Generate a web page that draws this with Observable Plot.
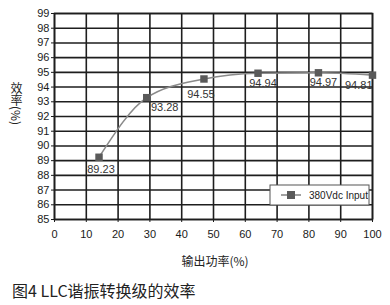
<!DOCTYPE html>
<html><head><meta charset="utf-8">
<script src="https://cdn.jsdelivr.net/npm/d3@7"></script>
<script src="https://cdn.jsdelivr.net/npm/@observablehq/plot@0.6"></script>
<style>
body{margin:0;background:#fff;}
#c{position:relative;width:390px;height:305px;}
#ylab{position:absolute;left:9px;top:82px;writing-mode:vertical-rl;text-orientation:mixed;
  font-family:'Noto Sans CJK SC',sans-serif;font-size:12px;line-height:14px;color:#222;white-space:nowrap;}
</style>
</head><body><div id="c"><div id="ylab"></div></div>
<script>
const power = [14, 29, 47, 64, 83, 100];
const efficiency = [89.23, 93.28, 94.55, 94.94, 94.97, 94.81];
const xTicks = [0, 10, 20, 30, 40, 50, 60, 70, 80, 90, 100];
const yTicks = [85, 86, 87, 88, 89, 90, 91, 92, 93, 94, 95, 96, 97, 98, 99];
const seriesName = "380Vdc Input";
const xLabel = "输出功率(%)";
const yLabel = "效率(%)";
const caption = "图4 LLC谐振转换级的效率";

const data = power.map((p, i) => ({p, e: efficiency[i], label: efficiency[i].toFixed(2)}));
const font = "'Liberation Sans', Arial, sans-serif";
const cjk = "'Noto Sans CJK SC', sans-serif";

const chart = Plot.plot({
  width: 390, height: 305,
  marginLeft: 54, marginRight: 18, marginTop: 13, marginBottom: 86,
  style: {fontFamily: font, fontSize: "11px", color: "#1a1a1a", background: "#fff"},
  x: {domain: [0, 100], ticks: xTicks, tickSize: 3, tickPadding: 8, label: null},
  y: {domain: [85, 99], ticks: yTicks, tickSize: 3, tickPadding: 2, label: null},
  marks: [
    Plot.gridX(xTicks, {stroke: "#1e1e1e", strokeOpacity: 1, strokeWidth: 1.6}),
    Plot.gridY(yTicks, {stroke: "#1e1e1e", strokeOpacity: 1, strokeWidth: 1.6}),
    Plot.frame({stroke: "#1e1e1e", strokeWidth: 1.6}),
    Plot.line(data, {x: "p", y: "e", stroke: "#8a8a8a", strokeWidth: 1.6, curve: "monotone-x"}),
    Plot.dot(data, {x: "p", y: "e", symbol: "square", r: 4.2, fill: "#5a5a5a", stroke: "none"}),
    Plot.text(data.slice(0, 1), {x: "p", y: "e", text: "label", dy: 12, dx: 2, fill: "#333", fontSize: 11}),
    Plot.text(data.slice(1, 2), {x: "p", y: "e", text: "label", dy: 10, dx: 18, fill: "#333", fontSize: 11}),
    Plot.text(data.slice(2, 3), {x: "p", y: "e", text: "label", dy: 15, dx: -3, fill: "#333", fontSize: 11}),
    Plot.text(data.slice(3, 5), {x: "p", y: "e", text: "label", dy: 10, dx: 5, fill: "#333", fontSize: 11}),
    Plot.text(data.slice(5), {x: "p", y: "e", text: "label", dy: 10, dx: 0, textAnchor: "end", fill: "#333", fontSize: 11})
  ]
});
document.getElementById("c").appendChild(chart);
document.getElementById("ylab").textContent = yLabel;

const svg = d3.select(chart);
// legend
const lg = svg.append("g");
lg.append("rect").attr("x", 270).attr("y", 185).attr("width", 99).attr("height", 20)
  .attr("fill", "#fff").attr("stroke", "#555").attr("stroke-width", 1);
lg.append("line").attr("x1", 281).attr("x2", 301).attr("y1", 195).attr("y2", 195)
  .attr("stroke", "#8a8a8a").attr("stroke-width", 1.6);
lg.append("rect").attr("x", 287).attr("y", 191).attr("width", 8).attr("height", 8).attr("fill", "#5a5a5a");
lg.append("text").attr("x", 309).attr("y", 198.5).attr("text-anchor", "start").attr("font-family", font).attr("font-size", 10)
  .attr("fill", "#222").text(seriesName);
// x axis label
svg.append("text").attr("x", 215).attr("y", 266).attr("text-anchor", "middle")
  .attr("font-family", cjk).attr("font-size", 12).attr("fill", "#222").text(xLabel);
// caption
svg.append("text").attr("x", 12).attr("y", 297).attr("text-anchor", "start")
  .attr("font-family", cjk).attr("font-size", 16).attr("fill", "#222").text(caption);
</script></body></html>
